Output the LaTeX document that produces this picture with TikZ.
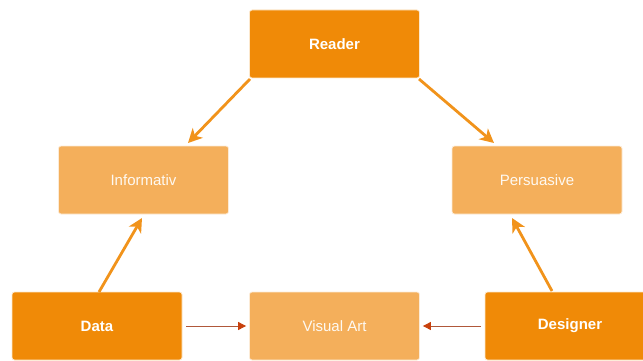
\documentclass[tikz,border=0pt]{standalone}
\usepackage{fontspec}
\setmainfont{Liberation Sans}
\usetikzlibrary{arrows.meta}
\definecolor{darkor}{HTML}{F08A07}
\definecolor{lightor}{HTML}{F4AF5B}
\definecolor{thinline}{HTML}{B0583A}
\definecolor{thinhead}{HTML}{C8400C}
\tikzset{
  darkbox/.style={draw=white!80!darkor, line width=0.8pt, fill=darkor, rounded corners=2.5pt,
    minimum width=170pt, minimum height=68pt, inner sep=0pt, text=white,
    font=\fontsize{15}{17}\selectfont\bfseries},
  lightbox/.style={draw=white!75!lightor, line width=0.8pt, fill=lightor, rounded corners=2.5pt,
    minimum width=170pt, minimum height=68pt, inner sep=0pt, text=white!92!lightor,
    font=\fontsize{15}{17}\selectfont},
  bigarrow/.style={draw=darkor!92!white, line width=2.8pt, -{Stealth[length=14pt,width=14pt,inset=4pt]}},
  thinarrow/.style={draw=thinline, line width=0.9pt, -{Triangle[length=8pt,width=8pt,color=thinhead]}}
}
\begin{document}
\begin{tikzpicture}[x=1pt,y=-1pt]
\useasboundingbox (0,0) rectangle (643,361);
\clip (0,0) rectangle (643,361);
\node[darkbox] (reader) at (334.5,44) {Reader};
\node[lightbox] (info) at (143.5,180) {Informativ};
\node[lightbox] (pers) at (537,180) {Persuasive};
\node[darkbox] (data) at (97,326) {Data};
\node[lightbox] (visual) at (334.5,326) {Visual Art};
\node[darkbox] (designer) at (570,326) {Designer};
\coordinate (r1) at (250,79);
\coordinate (r2) at (419,79);
\coordinate (i1) at (188,143);
\coordinate (p1) at (494,143);
\coordinate (d1) at (99,292);
\coordinate (i2) at (142,218);
\coordinate (g1) at (552,291);
\coordinate (p2) at (512,218);
\draw[bigarrow] (r1) -- (i1);
\draw[bigarrow] (r2) -- (p1);
\draw[bigarrow] (d1) -- (i2);
\draw[bigarrow] (g1) -- (p2);
\draw[thinarrow] (data.east) ++(4,0) -- ([xshift=-3pt]visual.west);
\draw[thinarrow] (designer.west) ++(-4,0) -- ([xshift=3pt]visual.east);
\end{tikzpicture}
\end{document}
